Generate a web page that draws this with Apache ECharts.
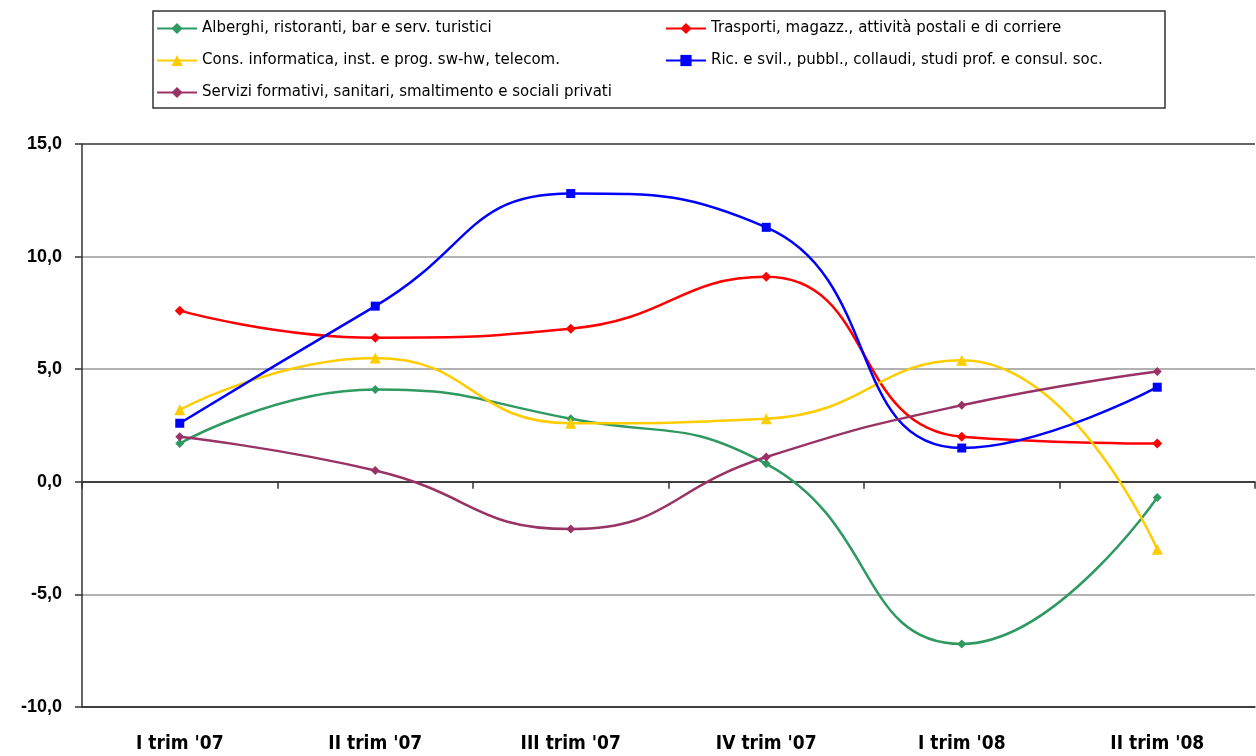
<!DOCTYPE html>
<html>
<head>
<meta charset="utf-8">
<script src="https://cdn.jsdelivr.net/npm/echarts@6/dist/echarts.min.js"></script>
<style>
  html, body { margin: 0; padding: 0; background: #fff; }
  #chart { width: 1256px; height: 756px; }
</style>
</head>
<body>
<div id="chart"></div>
<script>
// trimestri
var categories = ["I trim '07", "II trim '07", "III trim '07", "IV trim '07", "I trim '08", "II trim '08"];

var names = [
  'Alberghi, ristoranti, bar e serv. turistici',
  'Trasporti, magazz., attività postali e di corriere',
  'Cons. informatica, inst. e prog. sw-hw, telecom.',
  'Ric. e svil., pubbl., collaudi, studi prof. e consul. soc.',
  'Servizi formativi, sanitari, smaltimento e sociali privati'
];

var alberghi  = [1.7, 4.1, 2.8, 0.8, -7.2, -0.7];
var trasporti = [7.6, 6.4, 6.8, 9.1, 2.0, 1.7];
var consInfo  = [3.2, 5.5, 2.6, 2.8, 5.4, -3.0];
var ricSvil   = [2.6, 7.8, 12.8, 11.3, 1.5, 4.2];
var servizi   = [2.0, 0.5, -2.1, 1.1, 3.4, 4.9];

var yTicks = [-10, -5, 0, 5, 10, 15];

var colors = ['#2e9960', '#ff0000', '#ffcc00', '#0000ff', '#993366'];
var symbols = ['diamond', 'diamond', 'triangle', 'rect', 'diamond'];
var sizes = [9, 10, 11, 9, 9];

function mkSeries(i, data) {
  return {
    name: names[i],
    type: 'line',
    data: data,
    smooth: 0.5,
    symbol: symbols[i],
    symbolSize: sizes[i],
    showSymbol: true,
    color: colors[i],
    lineStyle: { width: 2.5, color: colors[i] },
    itemStyle: { color: colors[i] },
    z: 3
  };
}

var chart = echarts.init(document.getElementById('chart'));

var legendText = { fontFamily: 'DejaVu Sans', fontSize: 15, color: '#000' };

chart.setOption({
  animation: false,
  graphic: [{
    type: 'rect',
    shape: { x: 153, y: 11, width: 1012, height: 97 },
    style: { fill: 'none', stroke: '#333', lineWidth: 1.5 },
    z: 0
  }],
  legend: [{
    orient: 'vertical',
    left: 151, top: 16,
    itemWidth: 40, itemHeight: 14, itemGap: 17,
    textStyle: legendText,
    data: [names[0], names[2], names[4]]
  }, {
    orient: 'vertical',
    left: 660, top: 16,
    itemWidth: 40, itemHeight: 14, itemGap: 17,
    textStyle: legendText,
    data: [names[1], names[3]]
  }],
  grid: { left: 82, right: 1, top: 144, bottom: 49, containLabel: false },
  xAxis: [{
    type: 'category',
    data: categories,
    boundaryGap: true,
    axisLine: { onZero: false, lineStyle: { color: '#333', width: 1.5 } },
    axisTick: { show: false },
    axisLabel: {
      margin: 28,
      fontFamily: 'DejaVu Sans Condensed',
      fontWeight: 'bold',
      fontSize: 19,
      color: '#000'
    }
  }, {
    type: 'category',
    data: categories,
    position: 'bottom',
    boundaryGap: true,
    axisLine: { onZero: true, lineStyle: { color: '#333', width: 1.5 } },
    axisTick: { show: true, length: 7, lineStyle: { color: '#333', width: 1.5 } },
    axisLabel: { show: false }
  }],
  yAxis: {
    type: 'value',
    min: yTicks[0],
    max: yTicks[yTicks.length - 1],
    interval: 5,
    axisLine: { show: true, lineStyle: { color: '#333', width: 1.5 } },
    axisTick: { show: true, length: 7, lineStyle: { color: '#333', width: 1.5 } },
    axisLabel: {
      margin: 20,
      fontFamily: 'Liberation Sans',
      fontWeight: 'bold',
      fontSize: 18,
      color: '#000',
      formatter: function (v) { return v.toFixed(1).replace('.', ','); }
    },
    splitLine: {
      show: true,
      lineStyle: { color: ['#333', '#999', '#333', '#999', '#999', '#333'], width: 1.5 }
    }
  },
  series: [
    mkSeries(0, alberghi),
    mkSeries(1, trasporti),
    mkSeries(2, consInfo),
    mkSeries(3, ricSvil),
    mkSeries(4, servizi)
  ]
});
</script>
</body>
</html>
